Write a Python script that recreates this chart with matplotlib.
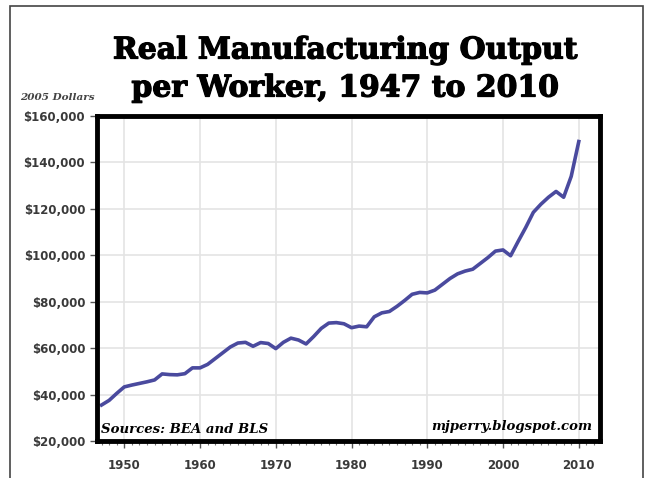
import numpy as np
import matplotlib
matplotlib.use("Agg")
import matplotlib.pyplot as plt
import matplotlib.patheffects as pe
from matplotlib.patches import Rectangle
from matplotlib.ticker import FuncFormatter, MultipleLocator

# values (2005 dollars per worker)
years = list(range(1947, 2011))
output = [
    35500, 37500, 40500, 43300, 44100, 44800, 45500, 46300, 48900, 48600,
    48500, 49000, 51500, 51500, 53000, 55500, 58000, 60500, 62200, 62500,
    60800, 62400, 62000, 59800, 62500, 64300, 63500, 61800, 65000, 68500,
    70800, 71000, 70500, 68800, 69500, 69200, 73500, 75200, 75800, 78000,
    80500, 83200, 84000, 83800, 85000, 87500, 90000, 92000, 93200, 94000,
    96500, 99000, 101800, 102300, 99800, 106000, 112000, 118500, 122000, 125000,
    127500, 125000, 134000, 149000,
]
decades = [1950, 1960, 1970, 1980, 1990, 2000, 2010]
y_ticks = [20000, 40000, 60000, 80000, 100000, 120000, 140000, 160000]

fig = plt.figure(figsize=(6.46, 4.78), dpi=100)

# outer border of the picture
fig.patches.append(Rectangle((10 / 646, -0.05), 633 / 646, 1.05 - 6 / 478,
                             transform=fig.transFigure, fill=False,
                             edgecolor="#444444", linewidth=1.2))

ax = fig.add_axes([97 / 646, 1 - 441 / 478, 503 / 646, 325 / 478])
ax.plot(years, output, color="#4a4a9e", linewidth=2.6, solid_joinstyle="round")

ax.set_xlim(1946.4, 2012.8)
ax.set_ylim(20000, 160000)
ax.set_xticks(decades)
ax.xaxis.set_minor_locator(MultipleLocator(1))
ax.set_yticks(y_ticks)
ax.yaxis.set_major_formatter(FuncFormatter(lambda v, p: "${:,.0f}".format(v)))

ax.grid(True, color="#e4e4e4", linewidth=1.2)
ax.set_axisbelow(True)
for s in ax.spines.values():
    s.set_linewidth(3.5)
    s.set_color("black")

ax.tick_params(axis="both", which="major", labelsize=8.5, colors="#555555",
               labelcolor="#3a3a3a", length=5, width=1)
ax.tick_params(axis="x", which="major", pad=8)
ax.tick_params(axis="x", which="minor", length=3, width=0.8, colors="#777777")
for lab in ax.get_xticklabels() + ax.get_yticklabels():
    lab.set_fontweight("bold")

# title in heavy serif
heavy = [pe.withStroke(linewidth=0.9, foreground="black")]
fig.text(0.535, 1 - 50 / 478, "Real Manufacturing Output", ha="center", va="center",
         fontsize=21.5, fontweight="bold", family="DejaVu Serif", path_effects=heavy)
fig.text(0.535, 1 - 88 / 478, "per Worker, 1947 to 2010", ha="center", va="center",
         fontsize=21.5, fontweight="bold", family="DejaVu Serif", path_effects=heavy)

fig.text(20 / 646, 1 - 98 / 478, "2005 Dollars", ha="left", va="center",
         fontsize=7.5, fontweight="bold", style="italic", family="DejaVu Serif",
         color="#444444")

ax.text(0.008, 0.015, "Sources: BEA and BLS", transform=ax.transAxes,
        ha="left", va="bottom", fontsize=9.5, fontweight="bold", style="italic",
        family="DejaVu Serif")
ax.text(0.985, 0.025, "mjperry.blogspot.com", transform=ax.transAxes,
        ha="right", va="bottom", fontsize=9.5, fontweight="bold", style="italic",
        family="DejaVu Serif")

fig.savefig("out.png", dpi=100)
